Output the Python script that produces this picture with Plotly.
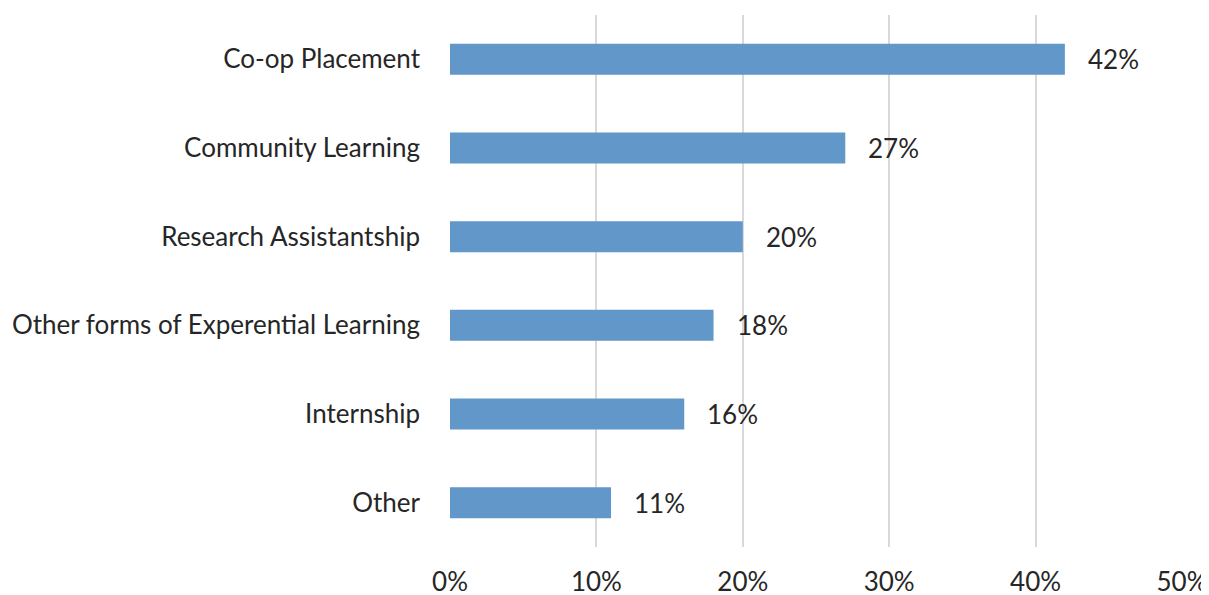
import plotly.graph_objects as go

categories = ["Co-op Placement", "Community Learning", "Research Assistantship",
              "Other forms of Experential Learning", "Internship", "Other"]
values = [42, 27, 20, 18, 16, 11]
labels = ["42%", "27%", "20%", "18%", "16%", "11%"]
tick_vals = [0, 10, 20, 30, 40, 50]
tick_text = ["0%", "10%", "20%", "30%", "40%", "50%"]

FONT = "Lato"
TXT = "#262626"
FS = 26

fig = go.Figure()
fig.add_trace(go.Bar(
    x=values, y=categories, orientation="h",
    marker=dict(color="#6297CA", line=dict(width=0)),
    hoverinfo="skip",
))
for c, v, t in zip(categories, values, labels):
    fig.add_annotation(x=v, y=c, text=t, showarrow=False, xanchor="left",
                       xshift=21, font=dict(family=FONT, size=FS, color=TXT))

fig.update_layout(
    width=1201, height=587,
    margin=dict(l=442, r=27, t=7, b=48, autoexpand=False),
    paper_bgcolor="white", plot_bgcolor="white",
    bargap=0.65, showlegend=False,
    font=dict(family=FONT, size=FS, color=TXT),
    xaxis=dict(range=[0, 50], tickvals=tick_vals, ticktext=tick_text,
               showgrid=True, gridcolor="#D9D9D9", gridwidth=1.5,
               zeroline=False, showline=False, ticks="", automargin=False,
               ticklabelstandoff=17, fixedrange=True),
    yaxis=dict(categoryorder="array", categoryarray=categories[::-1],
               showgrid=False, zeroline=False, showline=False, ticks="",
               automargin=False, ticklabelstandoff=29, fixedrange=True),
)
fig.write_html("out.html")
